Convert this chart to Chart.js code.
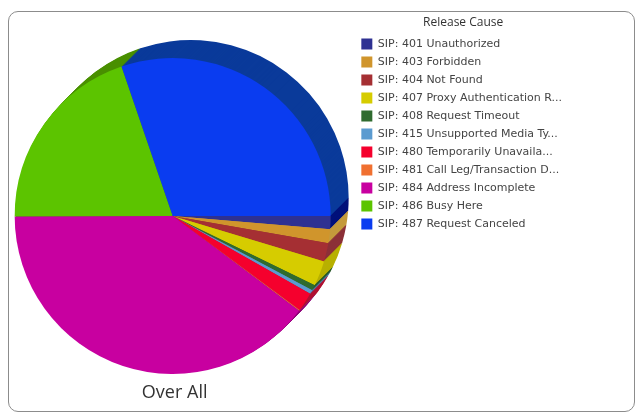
<!DOCTYPE html>
<html>
<head>
<meta charset="utf-8">
<script src="https://cdn.jsdelivr.net/npm/chart.js@4"></script>
<style>
  html, body { margin: 0; padding: 0; background: #fff; overflow: hidden; }
  #frame { position: absolute; left: 8px; top: 11px; width: 625px; height: 399px; border: 1px solid #8c8c8c; border-radius: 10px; }
  #wrap { position: absolute; left: -9px; top: 0; width: 644px; height: 415px; filter: blur(0.6px); }
</style>
</head>
<body>
<div id="frame"></div>
<div id="wrap"><canvas id="pie" width="644" height="415"></canvas></div>
<script>
const categories = [
  "SIP: 401 Unauthorized",
  "SIP: 403 Forbidden",
  "SIP: 404 Not Found",
  "SIP: 407 Proxy Authentication R...",
  "SIP: 408 Request Timeout",
  "SIP: 415 Unsupported Media Ty...",
  "SIP: 480 Temporarily Unavaila...",
  "SIP: 481 Call Leg/Transaction D...",
  "SIP: 484 Address Incomplete",
  "SIP: 486 Busy Here",
  "SIP: 487 Request Canceled"
];
const values = [1.33, 1.42, 1.89, 2.58, 0.56, 0.42, 1.94, 0.11, 39.7, 19.8, 30.25];
const colors = ["#2e3192", "#d0952c", "#a52f33", "#d6cc00", "#2f6b2f", "#5b9bd0", "#f5002d", "#f07030", "#c800a0", "#5cc400", "#0a3cf0"];
const sideColors = ["#00107a", "#c49a3c", "#8c3038", "#b8b000", "#2a5a2a", "#4a80b0", "#b01030", "#c05a28", "#900078", "#4a9000", "#0a3a9a"];
const legendTitle = "Release Cause";
const caption = "Over All";

// darker copy of the slices pushed up and to the right, for the 3d rim
const rim = {
  id: "rim",
  beforeDatasetsDraw(chart) {
    const ctx = chart.ctx;
    const arcs = chart.getDatasetMeta(0).data;
    for (let k = 18; k >= 1; k--) {
      arcs.forEach((arc, i) => {
        const p = arc.getProps(["x", "y", "startAngle", "endAngle", "outerRadius"]);
        ctx.fillStyle = sideColors[i];
        ctx.beginPath();
        ctx.moveTo(p.x + k, p.y - k);
        ctx.arc(p.x + k, p.y - k, p.outerRadius, p.startAngle, p.endAngle);
        ctx.closePath();
        ctx.fill();
      });
    }
  },
  afterDraw(chart) {
    const ctx = chart.ctx;
    const arc = chart.getDatasetMeta(0).data[0];
    ctx.save();
    ctx.fillStyle = "#333";
    ctx.font = "18px 'Open Sans'";
    ctx.textAlign = "center";
    ctx.textBaseline = "middle";
    ctx.fillText(caption, arc.x + 2, 393);
    ctx.restore();
  }
};

new Chart(document.getElementById("pie"), {
  type: "pie",
  data: {
    labels: categories,
    datasets: [{
      data: values,
      backgroundColor: colors,
      borderWidth: 0,
      radius: 158
    }]
  },
  options: {
    responsive: false,
    animation: false,
    rotation: 90,
    layout: { padding: { left: 0, right: 63, top: 17, bottom: 0 } },
    plugins: {
      tooltip: { enabled: false },
      legend: {
        position: "right",
        align: "start",
        title: { display: true, text: legendTitle, color: "#333", font: { family: "'Open Sans'", size: 12 }, padding: 0 },
        labels: {
          boxWidth: 11,
          boxHeight: 11,
          padding: 7,
          color: "#444",
          font: { family: "'DejaVu Sans'", size: 11 }
        }
      }
    }
  },
  plugins: [rim]
});
</script>
</body>
</html>
